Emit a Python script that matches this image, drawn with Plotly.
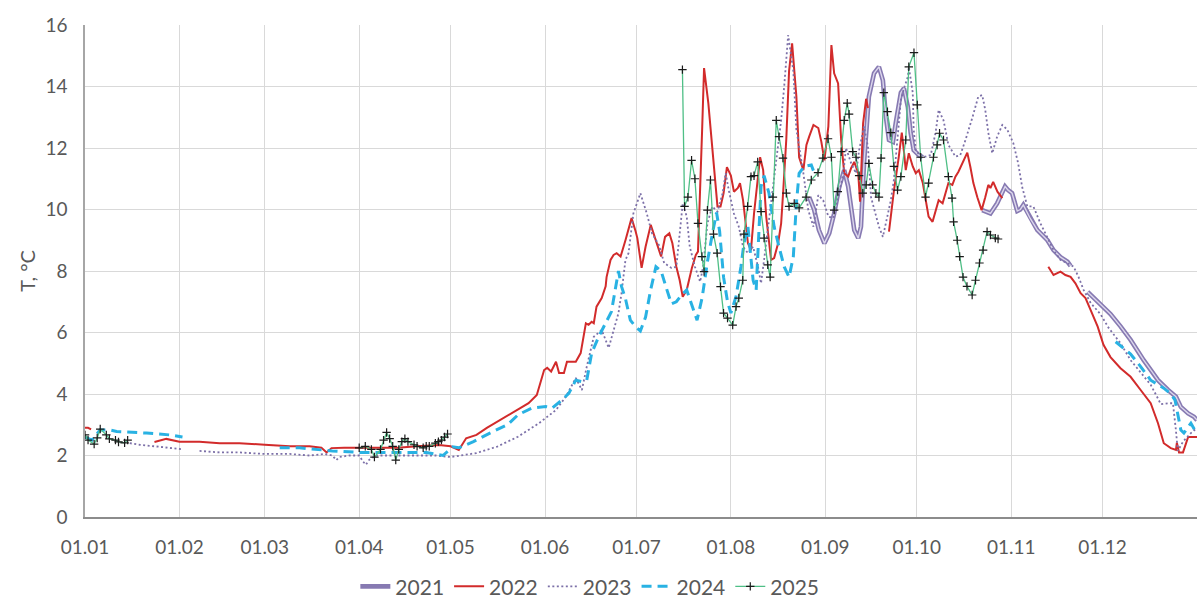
import plotly.graph_objects as go

# ---------------- data (x = day of year, 0 = 01.01) ----------------
TICK_DAYS = [0, 31, 59, 90, 120, 151, 181, 212, 243, 273, 304, 334]
TICK_LABELS = ["01.01", "01.02", "01.03", "01.04", "01.05", "01.06",
               "01.07", "01.08", "01.09", "01.10", "01.11", "01.12"]

# 2021
d2021a = [237.7, 239.3, 240.9, 242.7, 244.3, 245.9, 247.6, 249.2, 250.5, 251.5, 252.5, 253.8, 254.7,
          255.7, 257.3, 259, 260.6, 261.9, 262.9, 263.9, 265.2, 266.1, 267.8, 268.8, 270.1, 271, 272,
          273.7, 275]
t2021a = [10.4, 10.0, 9.33, 8.9, 9.23, 9.87, 10.75, 11.28, 10.75, 9.98, 9.33, 9.07, 9.44,
          11.5, 13.67, 14.43, 14.64, 14.2, 13.0, 12.26, 12.2, 12.8, 13.8, 13.94, 13.33, 12.5, 11.93,
          11.77, 11.7]
d2021b = [294.5, 297.2, 299.4, 301.1, 302, 303, 304.3, 306, 307, 308, 310.3, 312.6, 315.9, 317.9,
          320.2, 322.5, 323.5]
t2021b = [9.98, 9.87, 10.2, 10.53, 10.75, 10.63, 10.53, 9.95, 10.0, 10.15, 9.7, 9.33, 9.0, 8.68,
          8.45, 8.3, 8.17]
d2021c = [329.1, 333.3, 336.6, 339.9, 343.2, 347.5, 352.2, 355.5, 358.1, 359.7, 362.1, 364, 365]
t2021c = [7.32, 6.9, 6.6, 6.2, 5.76, 5.1, 4.45, 4.13, 3.91, 3.58, 3.37, 3.26, 3.15]

# 2022
d2022a = [0, 1, 2]
t2022a = [2.9, 2.9, 2.85]
d2022b = [22.8, 26.7, 31, 37.6, 44.2, 50.7, 59, 67.2, 73.7, 77.6, 79.3, 80.9, 85.1, 90, 96.3, 102.6,
          109, 116.2, 120, 122.7, 125.1, 128.5, 131.9, 135.3, 138.7, 142.1, 145.6, 148.3, 150.7, 151.7,
          153, 154.6, 155.6, 157.2, 158.2, 161.1, 162.7, 164.4, 165.3, 166.3, 167, 167.9, 169.6, 170.9,
          171.2, 172.5, 173.5, 174.5, 175.8, 177.4, 179.4, 180.7, 181.3, 182.7, 184, 185.7, 187.4, 189.1,
          190.4, 191.8, 192.8, 194.1, 195.2, 196.2, 197.5, 199.2, 200.5, 201.2, 202.6, 203.2, 204.6,
          206.3, 207.6, 208.6, 209.6, 210.7, 212, 213, 214.3, 215, 216, 217.6, 218.6, 219.6, 220.9,
          221.6, 222.6, 223.6, 225.2, 226.2, 227.5, 228.5, 229.2, 230.2, 231.1, 232.1, 233.5, 234.4,
          235.8, 236.8, 237.7, 239.1, 240.7, 241.7, 242.7, 244, 245, 245.9, 247.2, 248.2, 249.2, 250.5,
          251.5, 252.5, 253.8, 254.4, 255.4, 256.4, 257]
t2022b = [2.44, 2.54, 2.45, 2.45, 2.4, 2.4, 2.35, 2.3, 2.3, 2.25, 2.1, 2.24, 2.25, 2.25, 2.25, 2.25,
          2.3, 2.34, 2.3, 2.18, 2.56, 2.67, 2.9, 3.1, 3.3, 3.48, 3.7, 3.97, 4.78, 4.85,
          4.73, 5.05, 4.68, 4.68, 5.05, 5.05, 5.33, 6.3, 6.25, 6.35, 6.3, 6.84, 7.12, 7.5,
          7.8, 8.36, 8.52, 8.58, 8.47, 9.0, 9.72, 9.3, 9.07, 8.1, 8.79, 9.5, 8.95, 8.47,
          9.11, 9.23, 8.9, 8.14, 7.7, 7.16, 7.38, 8.1, 8.52, 8.63, 12.7, 14.6, 13.46,
          11.39, 10.1, 10.1, 10.53, 11.38, 11.1, 10.58, 10.7, 10.86, 10.3, 8.9, 8.68, 9.87, 11.18,
          11.7, 11.28, 9.77, 8.36, 8.42, 8.9, 9.55, 10.63, 12.3, 14.5, 15.4, 13.67, 11.7,
          11.28, 12.1, 12.37, 12.75, 12.65, 12.2, 11.6, 12.7, 15.35, 14.43, 14.1, 12.26, 11.18, 11.07,
          11.35, 11.55, 11.18, 10.25, 12.8, 13.6, 13.3]
d2022c = [263.9, 265.5, 267.1, 268.1, 268.8, 269.4, 270.4, 271.7, 272.7, 273.7, 275, 275.9, 276.9,
          278.2, 279.2, 280.2, 281.5, 282.5, 283.4, 284.7, 285.7, 286.7, 288.3, 289.6, 290.6, 291.6,
          292.9, 294.3, 295.5, 296.5, 297.2, 298.1, 299.5, 301.1]
t2022c = [9.28, 10.6, 11.7, 12.5, 11.9, 11.28, 11.83, 11.4, 11.18, 11.28, 10.86, 10.4, 9.77,
          9.6, 9.98, 10.3, 10.2, 10.53, 10.86, 10.8, 11.07, 11.23, 11.55, 11.85, 11.39, 10.86,
          10.4, 9.98, 10.4, 10.8, 10.7, 10.9, 10.58, 10.37]
d2022d = [316.2, 317.9, 320.2, 321.8, 323.5, 325.1, 326.8, 328.4, 330.1, 332.4, 334.3, 336.6, 339.9,
          343.2, 346.5, 349.8, 352.2, 354.1, 356.4, 358.1, 358.4, 359.1, 360.4, 362.1, 364, 365]
t2022d = [8.14, 7.87, 7.98, 7.87, 7.81, 7.6, 7.28, 7.12, 6.73, 6.19, 5.6, 5.2, 4.84,
          4.56, 4.13, 3.7, 3.05, 2.4, 2.24, 2.18, 2.42, 2.1, 2.1, 2.6, 2.6, 2.6]

# 2023
d2023a = [14.7, 17.9, 22.8, 27.7, 32]
t2023a = [2.4, 2.35, 2.3, 2.25, 2.2]
d2023b = [37.6, 44.2, 50.7, 59, 67.2, 73.7, 78.6, 81.2, 82.5, 83.5, 86.7, 90, 91.3, 92.2, 93.2, 95.4,
          102.6, 109, 115.3, 120, 123.4, 128.5, 135.3, 142.1, 149, 154.6, 157.8, 161.1, 163.1, 164.7,
          167, 169.6, 171.9, 174.1, 175.1, 176.1, 177.4, 178.4, 180, 182.3, 184.4, 186.1, 188.4, 190.1,
          192.5, 194.1, 195.2, 196.2, 197.5, 198.5, 200.2, 201.9, 202.9, 204.3, 205.9, 207.6, 209.3,
          210.3, 211.3, 213, 214.6, 216, 217.6, 219.3, 220.9, 221.9, 222.9, 224.5, 225.9, 226.9, 228.5,
          229.5, 230.8, 232.5, 233.5, 234.4, 235.8, 237.4, 239.1, 240.7, 242.3, 244, 245.6, 247.2,
          248.9, 249.8, 251.5, 253.1, 254.1, 255.7, 257, 258, 259.6, 260.6, 261.9, 262.9, 264.5, 265.5,
          266.8, 267.8, 268.8, 270.1, 270.4, 271.7, 272, 272.7, 274.3, 275.9, 277.6, 279.2, 280.2,
          281.8, 283.4, 285.7, 287.3, 289, 291.3, 293.2, 294.5, 295.5, 296.5, 297.8, 299.4, 301.1,
          302.7, 304.7, 306.3, 307.6, 309.3, 311.3, 313.6, 315.9, 317.9, 320.2, 322.5, 324.5, 326.1,
          327.8, 330.1, 333.3, 336, 339.9, 343.2, 346.5, 349.8, 352.2, 353.1, 355.5, 357.1, 358.1,
          358.7, 360.4, 363, 365]
t2023b = [2.15, 2.1, 2.1, 2.05, 2.05, 2.0, 2.05, 2.0, 1.85, 1.95, 2.0, 2.0, 1.8, 1.7, 1.85, 2.0,
          2.0, 2.0, 2.0, 1.95, 2.0, 2.08, 2.29, 2.61, 3.05, 3.48, 3.91, 4.52, 4.13, 4.89,
          5.86, 6.08, 5.5, 6.3, 6.63, 7.28, 8.36, 8.58, 9.87, 10.53, 9.87, 9.23, 8.84, 8.26,
          8.1, 8.14, 9.23, 10.2, 9.77, 8.79, 8.14, 7.65, 8.14, 9.55, 10.1, 9.93, 10.53,
          11.18, 10.63, 9.87, 9.44, 8.79, 8.58, 8.79, 8.14, 7.6, 8.36, 9.66, 10.63, 11.6, 12.9,
          14.0, 15.67, 14.5, 12.6, 12.04, 11.18, 9.98, 9.44, 10.47, 10.3, 9.77, 9.72, 10.37,
          11.18, 12.0, 11.5, 11.18, 11.93, 12.7, 12.04, 10.4, 9.82, 9.44, 9.11, 9.55, 10.3, 10.96,
          12.42, 13.56, 13.94, 14.32, 14.64, 13.8, 12.6, 11.93, 11.72, 11.72, 11.77, 12.5, 13.24,
          12.9, 12.1, 11.72, 11.77, 12.26, 13.0, 13.67, 13.72, 13.24, 12.5, 11.83, 12.37, 12.75,
          12.6, 12.16, 11.5, 10.74, 10.1, 10.1, 9.55, 9.11, 8.68, 8.36, 8.26, 8.14, 7.81,
          7.38, 6.96, 6.6, 6.15, 5.65, 5.1, 4.7, 4.3, 3.85, 3.67, 3.7, 3.7, 2.8,
          2.15, 2.45, 2.73, 2.9]

# 2024
d2024a = [0, 2.3, 4.9, 8.2, 10.4, 14.7, 20.2, 27.7, 32]
t2024a = [2.6, 2.5, 2.83, 2.83, 2.78, 2.76, 2.73, 2.67, 2.6]
d2024b = [63.9, 70.4, 81.2, 90, 102.6, 112.1, 117.5, 120.7, 122.7, 127.5, 132.9, 138.7, 142.1, 146.6,
          151.3, 153.3, 156.5, 158.8, 161.1, 163.1, 164.7, 166.3, 168.6, 170.9, 172.8, 175.1, 176.1,
          177.4, 179, 180.7, 182.3, 184, 185.7, 187.4, 189.1, 190.8, 192.5, 194.1, 195.8, 197.5, 199.2,
          200.9, 202.6, 204.3, 205.9, 207.3, 208.3, 209.6, 210.9, 212, 213.7, 215.3, 216.3, 217.6,
          219.3, 220.3, 221.9, 222.9, 224.5, 226.2, 227.8, 229.5, 231.1, 232.5, 233.5, 234.4, 236.1,
          238.4, 239.4]
t2024b = [2.25, 2.25, 2.15, 2.1, 2.1, 2.1, 2.0, 2.28, 2.25, 2.45, 2.73, 3.0, 3.32, 3.54,
          3.59, 3.54, 3.8, 4.02, 4.45, 4.4, 4.45, 5.33, 5.86, 6.3, 6.68, 8.0, 7.5,
          7.1, 6.4, 6.19, 6.05, 6.5, 7.4, 8.14, 8.0, 7.45, 6.93, 7.0, 7.22, 7.38, 6.85,
          6.4, 7.15, 8.3, 9.2, 9.9, 9.3, 7.8, 7.0, 6.63, 7.17, 8.14, 8.9, 9.44,
          7.7, 7.38, 10.75, 11.1, 10.53, 9.44, 8.79, 8.14, 7.8, 8.47, 10.2, 11.18, 11.4,
          11.45, 11.18]
d2024c = [338.3, 343.2, 346.5, 349.8, 354.1, 356.4, 357.8, 358.7, 359.7, 360.7, 363, 365]
t2024c = [5.7, 5.3, 4.89, 4.45, 4.19, 4.0, 3.8, 3.37, 2.83, 2.73, 3.05, 2.7]

# 2025
d2025a = [0, 1, 3, 4, 5, 7, 8, 10, 11, 13, 14]
t2025a = [2.67, 2.5, 2.37, 2.57, 2.86, 2.67, 2.54, 2.5, 2.44, 2.41, 2.5]
d2025b = [90, 92, 94, 95, 97, 98, 99, 100, 101, 102, 103, 104, 105, 106, 108, 109, 111, 112, 113, 115,
          116, 117, 118, 119]
t2025b = [2.25, 2.3, 2.2, 1.95, 2.2, 2.5, 2.75, 2.55, 2.3, 1.85, 2.2, 2.45, 2.55, 2.45, 2.35, 2.3,
          2.25, 2.3, 2.3, 2.4, 2.45, 2.5, 2.6, 2.7]
d2025c = [196.1, 196.8, 197.9, 199.1, 200.2, 201.2, 202.5, 203.2, 204.3, 205.3, 206.3, 207.5, 208.6,
          209.6, 210.9, 212.6, 213.7, 214.6, 215.9, 216.3, 217.5, 218.6, 219.6, 220.8, 221.9, 222.9,
          224.1, 224.9, 225.8, 226.9, 227.8, 229.1, 230.2, 231.1, 232.8, 234.4, 236.7, 238.4, 240.6,
          242.2, 243.9, 245.0, 245.9, 247.1, 248.2, 249.2, 250.2, 250.8, 252.0, 253.1, 254.1, 255.3,
          256.4, 257.3, 258.5, 259.6, 260.6, 261.3, 262.2, 263.4, 264.5, 265.5, 266.7, 267.8, 269.4,
          270.4, 272.1, 273.2, 274.3, 275.9, 276.9, 278.5, 279.7, 280.5, 281.8, 283.4, 284.6, 285.1,
          286.3, 287.1, 288.2, 289.5, 291.2, 292.3, 293.6, 294.8, 296.1, 297.2, 298.8, 299.7]
t2025c = [14.55, 10.1, 10.4, 11.6, 11.0, 9.55, 8.47, 7.98, 9.98, 10.96, 9.2, 8.58, 7.49,
          6.63, 6.47, 6.24, 6.84, 7.12, 7.7, 9.2, 10.1, 11.07, 11.1, 11.55, 9.93, 9.07,
          8.2, 7.8, 10.4, 12.9, 12.37, 11.67, 10.53, 10.1, 10.2, 10.05, 10.4, 10.96, 11.2,
          11.67, 12.3, 11.7, 9.98, 10.58, 11.88, 12.9, 13.46, 13.1, 11.88, 11.7, 11.1, 10.53,
          10.8, 11.5, 10.8, 10.53, 10.4, 11.67, 13.8, 13.18, 12.5, 11.4, 10.63, 11.07, 12.26,
          14.64, 15.1, 13.4, 11.7, 10.4, 10.86, 11.7, 12.1, 12.48, 12.26, 11.07, 10.37, 9.6,
          9.0, 8.47, 7.8, 7.5, 7.22, 7.7, 8.26, 8.68, 9.28, 9.17, 9.07, 9.04]


def join(*segs):
    xs, ys = [], []
    for i, (d, t) in enumerate(segs):
        assert len(d) == len(t)
        if i:
            xs.append(None)
            ys.append(None)
        xs += list(d)
        ys += list(t)
    return xs, ys


x21, y21 = join((d2021a, t2021a), (d2021b, t2021b), (d2021c, t2021c))
x22, y22 = join((d2022a, t2022a), (d2022b, t2022b), (d2022c, t2022c), (d2022d, t2022d))
x23, y23 = join((d2023a, t2023a), (d2023b, t2023b))
x24, y24 = join((d2024a, t2024a), (d2024b, t2024b), (d2024c, t2024c))
x25, y25 = join((d2025a, t2025a), (d2025b, t2025b), (d2025c, t2025c))

FONT = "Lato, Carlito, Calibri, sans-serif"
GREY = "#595959"

fig = go.Figure()
fig.add_trace(go.Scatter(x=x21, y=y21, mode="lines", name="2021", legendgroup="2021",
                         line=dict(color="#877ab2", width=4.6)))
fig.add_trace(go.Scatter(x=x21, y=y21, mode="lines", name="2021", legendgroup="2021", showlegend=False,
                         hoverinfo="skip", line=dict(color="#dcd7ec", width=1.4)))
fig.add_trace(go.Scatter(x=x22, y=y22, mode="lines", name="2022",
                         line=dict(color="#d22b2b", width=2)))
fig.add_trace(go.Scatter(x=x23, y=y23, mode="lines", name="2023",
                         line=dict(color="#7c70a8", width=1.8, dash="2px,2.5px")))
fig.add_trace(go.Scatter(x=x24, y=y24, mode="lines", name="2024",
                         line=dict(color="#29b2e3", width=3, dash="10px,6px")))
fig.add_trace(go.Scatter(x=x25, y=y25, mode="lines+markers", name="2025",
                         line=dict(color="#4fbf86", width=1.3),
                         marker=dict(symbol="cross-thin", size=6, color="#1a1a1a",
                                     line=dict(color="#1a1a1a", width=1.2))))

fig.update_layout(
    width=1200, height=603, autosize=False,
    margin=dict(l=85, r=3, t=25, b=86, autoexpand=False),
    paper_bgcolor="white", plot_bgcolor="white",
    font=dict(family=FONT, size=19, color=GREY),
    showlegend=True,
    legend=dict(orientation="h", xref="paper", x=0.454, xanchor="center",
                yref="container", y=0.027, yanchor="middle",
                font=dict(family=FONT, size=21, color=GREY),
                bgcolor="rgba(0,0,0,0)"),
)
fig.update_xaxes(range=[0, 365], tickmode="array", tickvals=TICK_DAYS, ticktext=TICK_LABELS,
                 showgrid=True, gridcolor="#d9d9d9", gridwidth=1,
                 showline=True, linecolor="#8c8c8c", linewidth=2,
                 ticks="", ticklabelstandoff=12, zeroline=False, automargin=False,
                 tickfont=dict(family=FONT, size=19, color=GREY))
fig.update_yaxes(range=[0, 16], dtick=2, tick0=0,
                 showgrid=True, gridcolor="#d9d9d9", gridwidth=1,
                 showline=True, linecolor="#a6a6a6", linewidth=1.5,
                 ticks="", ticklabelstandoff=12, zeroline=False, automargin=False,
                 tickfont=dict(family=FONT, size=19, color=GREY),
                 title=dict(text="T, °C", standoff=4, font=dict(family=FONT, size=20, color=GREY)))

fig.write_html("out.html")
